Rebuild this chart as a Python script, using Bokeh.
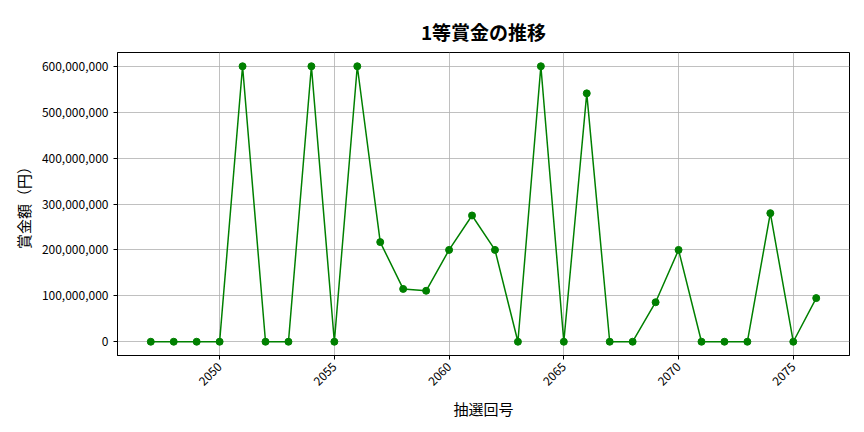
import math
from bokeh.plotting import figure
from bokeh.models import FixedTicker, NumeralTickFormatter, Range1d
from bokeh.embed import file_html
from bokeh.resources import INLINE

FONT = "Noto Sans CJK JP"

# 抽選回号と1等賞金（円）
kaigo = list(range(2047, 2077))
shokin = [
    0, 0, 0, 0, 600000000, 0, 0, 600000000, 0, 600000000,
    217000000, 115000000, 111000000, 200000000, 275000000, 200000000, 0, 600000000, 0, 541000000,
    0, 0, 86000000, 200000000, 0, 0, 0, 280000000, 0, 95000000,
]
x_ticks = [2050, 2055, 2060, 2065, 2070, 2075]
y_ticks = [0, 100000000, 200000000, 300000000, 400000000, 500000000, 600000000]

p = figure(
    width=856, height=424,
    title="1等賞金の推移",
    x_range=Range1d(2045.55, 2077.45),
    y_range=Range1d(-30000000, 630000000),
    output_backend="svg", toolbar_location=None,
    min_border_left=117, min_border_right=7, min_border_top=52, min_border_bottom=69,
)

p.line(kaigo, shokin, line_color="green", line_width=1.5)
p.scatter(kaigo, shokin, size=7, fill_color="green", line_color="green")

p.title.text_font = FONT
p.title.text_font_size = "19px"
p.title.text_font_style = "bold"
p.title.text_color = "black"
p.title.align = "center"
p.title.vertical_align = "middle"
p.title.offset = 0
p.title.standoff = 14

p.xaxis.ticker = FixedTicker(ticks=x_ticks)
p.yaxis.ticker = FixedTicker(ticks=y_ticks)
p.yaxis.formatter = NumeralTickFormatter(format="0,0")
p.xaxis.major_label_orientation = math.pi / 4

p.xaxis.axis_label = "抽選回号"
p.yaxis.axis_label = "賞金額（円）"

for ax in (p.xaxis, p.yaxis):
    ax.axis_label_text_font = FONT
    ax.axis_label_text_font_size = "15px"
    ax.axis_label_text_font_style = "normal"
    ax.axis_label_text_color = "black"
    ax.major_label_text_font = FONT
    ax.major_label_text_font_size = "12px"
    ax.major_label_text_color = "black"
    ax.axis_line_color = "black"
    ax.major_tick_line_color = "black"
    ax.major_tick_in = 0
    ax.major_tick_out = 4
    ax.minor_tick_line_color = None

p.grid.grid_line_color = "#b0b0b0"
p.grid.grid_line_width = 0.8
p.outline_line_color = "black"
p.outline_line_alpha = 1.0

open("out.html", "w").write(file_html(p, INLINE))
